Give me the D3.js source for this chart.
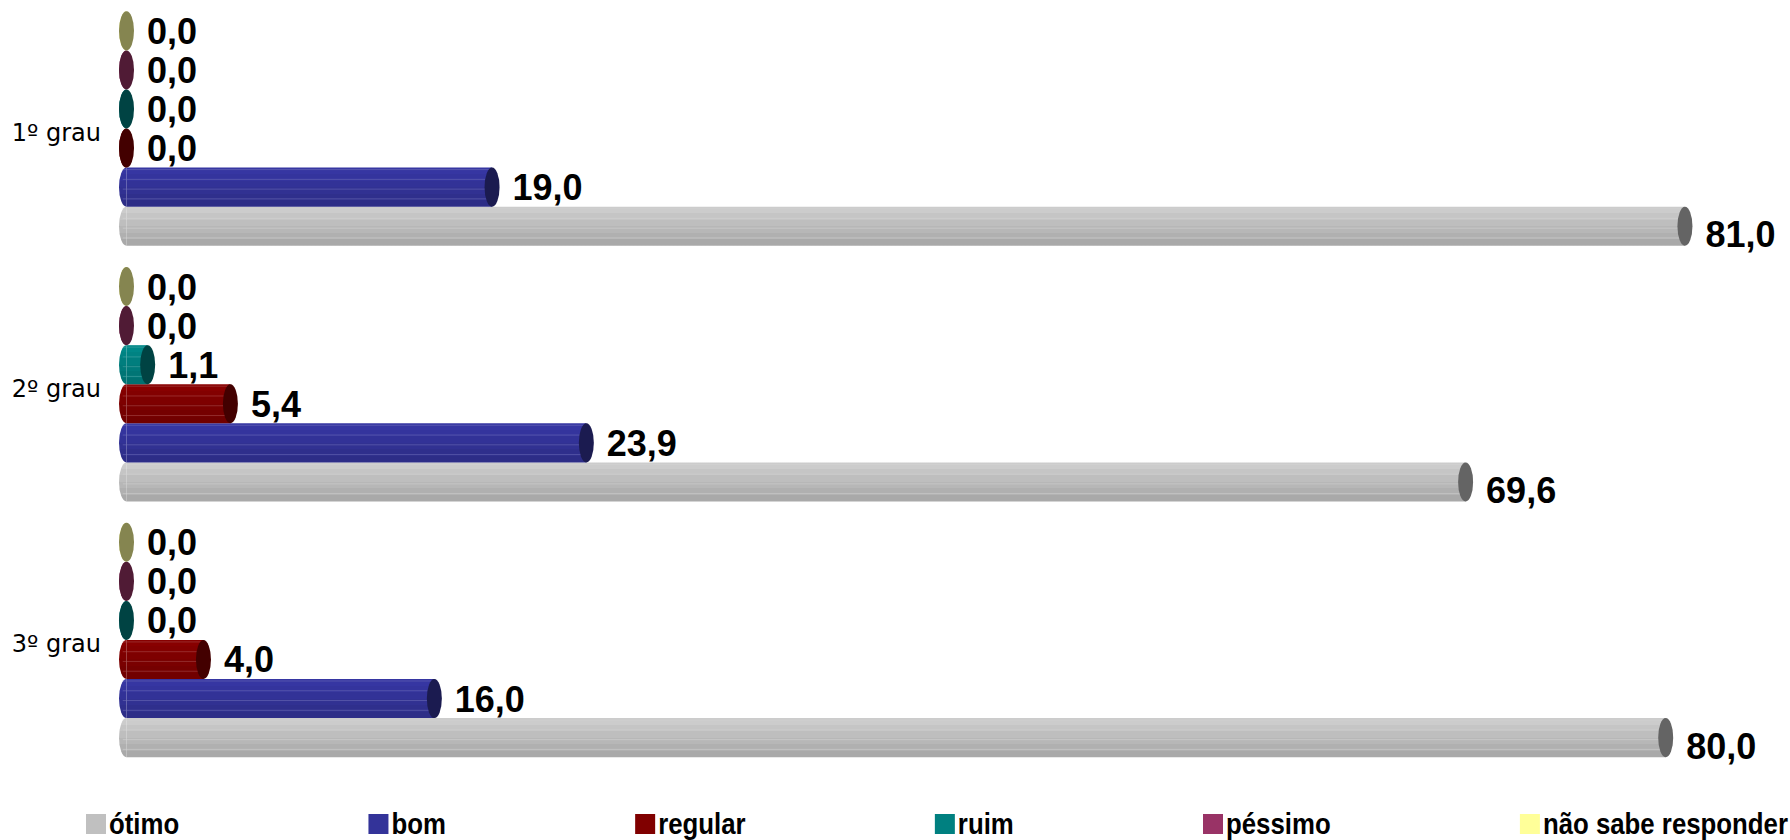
<!DOCTYPE html>
<html><head><meta charset="utf-8">
<script src="https://cdn.jsdelivr.net/npm/d3@7"></script>
<style>
html,body{margin:0;padding:0;background:#fff;}
svg{display:block;}
</style></head>
<body>
<svg id="chart" width="1790" height="840"></svg>
<script>
const categories = ["1º grau", "2º grau", "3º grau"];
const seriesNames = ["ótimo", "bom", "regular", "ruim", "péssimo", "não sabe responder"];
const seriesColors = ["#C0C0C0", "#333399", "#800000", "#008080", "#993366", "#FFFF99"];
const otimo = [81.0, 69.6, 80.0];
const bom = [19.0, 23.9, 16.0];
const regular = [0.0, 5.4, 4.0];
const ruim = [0.0, 1.1, 0.0];
const pessimo = [0.0, 0.0, 0.0];
const naoSabe = [0.0, 0.0, 0.0];
const seriesValues = [otimo, bom, regular, ruim, pessimo, naoSabe];

const svg = d3.select("#chart");
const rx = 7.5;
const x0 = 119;

const x = d3.scaleLinear().domain([0, 90]).range([x0 + rx, x0 + rx + 90 * 19.24]);
const y = d3.scaleBand().domain(categories).range([11.3, 757.2]).paddingInner(0.083);
const inner = d3.scaleBand().domain(seriesNames.slice().reverse()).range([0, y.bandwidth()]);
const fmt = v => d3.format(".1f")(v).replace(".", ",");

const defs = svg.append("defs");
seriesColors.forEach((c, i) => {
  const base = d3.rgb(c);
  const g = defs.append("linearGradient").attr("id", "grad" + i)
    .attr("x1", 0).attr("y1", 0).attr("x2", 0).attr("y2", 1);
  const n = 6;
  for (let k = 0; k < n; k++) {
    const t = k / (n - 1);
    const f = 1.06 - 0.18 * t;
    const col = d3.rgb(Math.min(255, base.r * f), Math.min(255, base.g * f), Math.min(255, base.b * f));
    g.append("stop").attr("offset", (k / n)).attr("stop-color", col);
    g.append("stop").attr("offset", ((k + 1) / n)).attr("stop-color", col);
  }
});
const capColor = c => { const b = d3.rgb(c); return d3.rgb(b.r * 0.52, b.g * 0.52, b.b * 0.52).toString(); };
const stripeColor = c => { const b = d3.rgb(c); return d3.rgb(b.r + (255 - b.r) * 0.3, b.g + (255 - b.g) * 0.3, b.b + (255 - b.b) * 0.3).toString(); };

const data = [];
categories.forEach((cat, ci) => {
  seriesNames.forEach((s, si) => {
    data.push({cat, s, si, v: seriesValues[si][ci]});
  });
});

const gBars = svg.append("g");
data.forEach(d => {
  const top = y(d.cat) + inner(d.s);
  const h = inner.bandwidth();
  const cy = top + h / 2;
  const ry = h / 2;
  const cx0 = x(0), cx1 = x(d.v);
  const g = gBars.append("g");
  g.append("path").attr("d", `M${cx0},${top} L${cx1},${top} L${cx1},${top + h} L${cx0},${top + h} Z`)
    .attr("fill", "url(#grad" + d.si + ")");
  g.append("path")
    .attr("d", `M${cx0},${top} A${rx},${ry} 0 0 0 ${cx0},${top + h} Z`)
    .attr("fill", "url(#grad" + d.si + ")");
  if (d.v > 0) {
    [0.05, 0.3, 0.55, 0.8].forEach(t => {
      g.append("line").attr("x1", cx0 - rx * 0.5).attr("x2", cx1)
        .attr("y1", top + h * t).attr("y2", top + h * t)
        .attr("stroke", stripeColor(seriesColors[d.si])).attr("stroke-width", 1).attr("stroke-opacity", 0.55);
    });
  }
  g.append("ellipse").attr("cx", cx1).attr("cy", cy).attr("rx", rx).attr("ry", ry)
    .attr("fill", capColor(seriesColors[d.si]));
  svg.append("text").attr("x", cx1 + rx + 13).attr("y", cy + (d.si === 0 ? 8 : 0))
    .attr("dy", "0.36em")
    .attr("font-family", "'Liberation Sans', Arial, sans-serif")
    .attr("font-weight", "bold").attr("font-size", 36).attr("fill", "#000")
    .text(fmt(d.v));
});

categories.forEach(c => {
  svg.append("text").attr("x", 101).attr("y", y(c) + y.bandwidth() / 2 + 4)
    .attr("dy", "0.35em").attr("text-anchor", "end")
    .attr("font-family", "'DejaVu Sans', Verdana, sans-serif").attr("font-size", 24)
    .attr("fill", "#000").text(c);
});

const lg = svg.append("g");
const sx = 0.86;
const items = seriesNames.map((s, i) => {
  const gi = lg.append("g");
  gi.append("rect").attr("x", 0).attr("y", 814).attr("width", 20).attr("height", 20).attr("fill", seriesColors[i]);
  const t = gi.append("text").attr("transform", `translate(23,834) scale(${sx},1)`)
    .attr("font-family", "'Liberation Sans', Arial, sans-serif")
    .attr("font-weight", "bold").attr("font-size", 30).attr("fill", "#000").text(s);
  return {gi, w: 23 + t.node().getComputedTextLength() * sx};
});
const startX = 86, endX = 1788;
const total = d3.sum(items, d => d.w);
const gap = (endX - startX - total) / (items.length - 1);
let cx = startX;
items.forEach(it => { it.gi.attr("transform", `translate(${cx},0)`); cx += it.w + gap; });
</script>
</body></html>
